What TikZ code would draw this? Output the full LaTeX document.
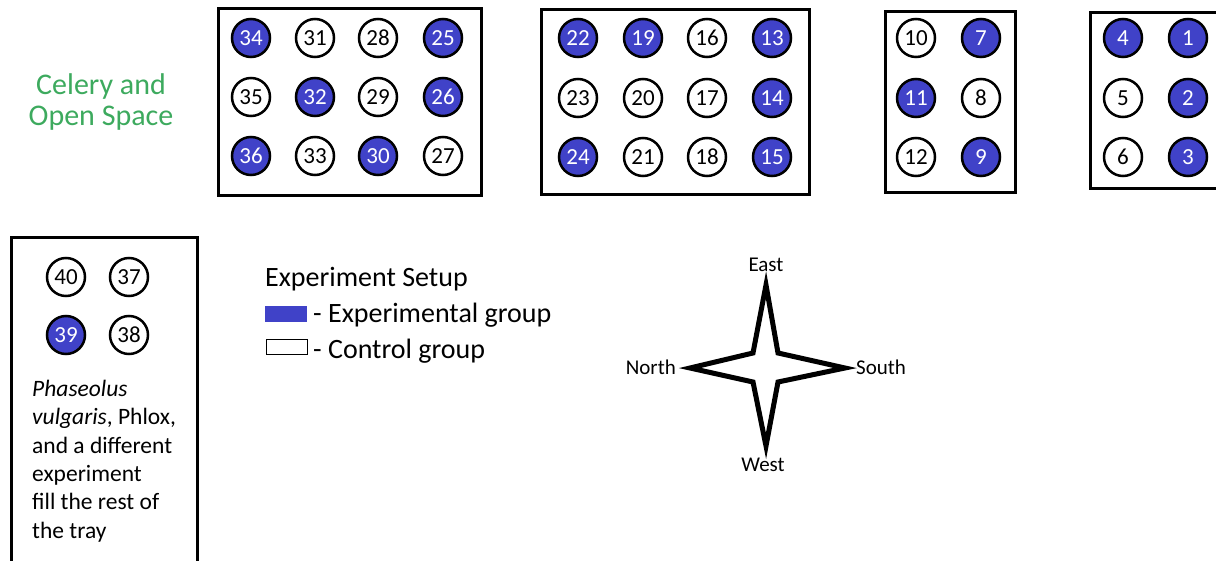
\documentclass[tikz,border=0pt]{standalone}
\usepackage{fontspec}
\setmainfont{Carlito}
\definecolor{expblue}{RGB}{64,66,200}
\definecolor{celgreen}{RGB}{61,170,94}
\begin{document}
\begin{tikzpicture}[x=1pt,y=-1pt,
  pot/.style={circle, draw=black, line width=2.5pt, minimum size=38pt, inner sep=0pt, font=\fontsize{23}{23}\selectfont},
  expt/.style={pot, fill=expblue, text=white},
  ctrl/.style={pot, fill=white, text=black},
  tray/.style={draw=black, line width=2.8pt, anchor=north west, inner sep=0pt},
  lbl/.style={inner sep=0pt, font=\fontsize{28}{28}\selectfont},
  dir/.style={inner sep=0pt, font=\fontsize{21}{21}\selectfont}
]
\useasboundingbox (0,0) rectangle (1216,561);
\clip (0,0) rectangle (1216,561);
% trays
\node[tray, minimum width=263pt, minimum height=187pt] (t1) at (217,7) {};
\node[tray, minimum width=268pt, minimum height=185pt] (t2) at (540,8) {};
\node[tray, minimum width=130pt, minimum height=181pt] (t3) at (884,10) {};
\node[tray, minimum width=133pt, minimum height=176pt] (t4) at (1089,11) {};
\node[tray, minimum width=186pt, minimum height=340pt] (t5) at (10,236) {};
% tray 1
\node[expt] (p34) at (251,38) {34};
\node[ctrl] (p31) at (315,38) {31};
\node[ctrl] (p28) at (378,38) {28};
\node[expt] (p25) at (443,38) {25};
\node[ctrl] (p35) at (251,97) {35};
\node[expt] (p32) at (315,97) {32};
\node[ctrl] (p29) at (378,97) {29};
\node[expt] (p26) at (443,97) {26};
\node[expt] (p36) at (251,156) {36};
\node[ctrl] (p33) at (315,156) {33};
\node[expt] (p30) at (378,156) {30};
\node[ctrl] (p27) at (443,156) {27};
% tray 2
\node[expt] (p22) at (578,38) {22};
\node[expt] (p19) at (643,38) {19};
\node[ctrl] (p16) at (707,38) {16};
\node[expt] (p13) at (772,38) {13};
\node[ctrl] (p23) at (578,98) {23};
\node[ctrl] (p20) at (643,98) {20};
\node[ctrl] (p17) at (707,98) {17};
\node[expt] (p14) at (772,98) {14};
\node[expt] (p24) at (578,157) {24};
\node[ctrl] (p21) at (643,157) {21};
\node[ctrl] (p18) at (707,157) {18};
\node[expt] (p15) at (772,157) {15};
% tray 3
\node[ctrl] (p10) at (916,38) {10};
\node[expt] (p7) at (981,38) {7};
\node[expt] (p11) at (916,98) {11};
\node[ctrl] (p8) at (981,98) {8};
\node[ctrl] (p12) at (916,157) {12};
\node[expt] (p9) at (981,157) {9};
% tray 4
\node[expt] (p4) at (1123,38) {4};
\node[expt] (p1) at (1188,38) {1};
\node[ctrl] (p5) at (1123,98) {5};
\node[expt] (p2) at (1188,98) {2};
\node[ctrl] (p6) at (1123,157) {6};
\node[expt] (p3) at (1188,157) {3};
% tray 5
\node[ctrl] (p40) at (66,277) {40};
\node[ctrl] (p37) at (129,277) {37};
\node[expt] (p39) at (66,335) {39};
\node[ctrl] (p38) at (129,335) {38};
\node[anchor=north west, inner sep=0pt, align=left, font=\fontsize{23.5}{28.3}\selectfont] (note) at (32,380)
  {\textit{Phaseolus}\\\textit{vulgaris}, Phlox,\\and a different\\experiment\\fill the rest of\\the tray};
% celery label
\node[anchor=north, inner sep=0pt, align=center, text=celgreen, font=\fontsize{30}{31.5}\selectfont] (celery) at (101,73) {Celery and\\Open Space};
% legend
\node[lbl, anchor=base west] (lt) at (265,287) {Experiment Setup};
\node[fill=expblue, minimum width=42pt, minimum height=16pt, inner sep=0pt, anchor=south west] (lb) at (265,322) {};
\node[lbl, anchor=base west] (le) at (313,323) {- Experimental group};
\node[draw=black, line width=1.3pt, fill=white, minimum width=41pt, minimum height=15pt, inner sep=0pt, anchor=south west] (lw) at (266,355) {};
\node[lbl, anchor=base west] (lc) at (313,359) {- Control group};
% compass
\draw[line width=5pt, line join=miter, fill=white]
  (766,285) -- (778,353) -- (845,368) -- (778,382) -- (766,446) -- (753,382) -- (690,368) -- (753,353) -- cycle;
\coordinate (ctr) at (766,368);
\node[dir] (east) at (766,265) {East};
\node[dir] (west) at (763,465) {West};
\node[dir, anchor=east] (north) at (676,367) {North};
\node[dir, anchor=west] (south) at (856,367) {South};
\end{tikzpicture}
\end{document}
